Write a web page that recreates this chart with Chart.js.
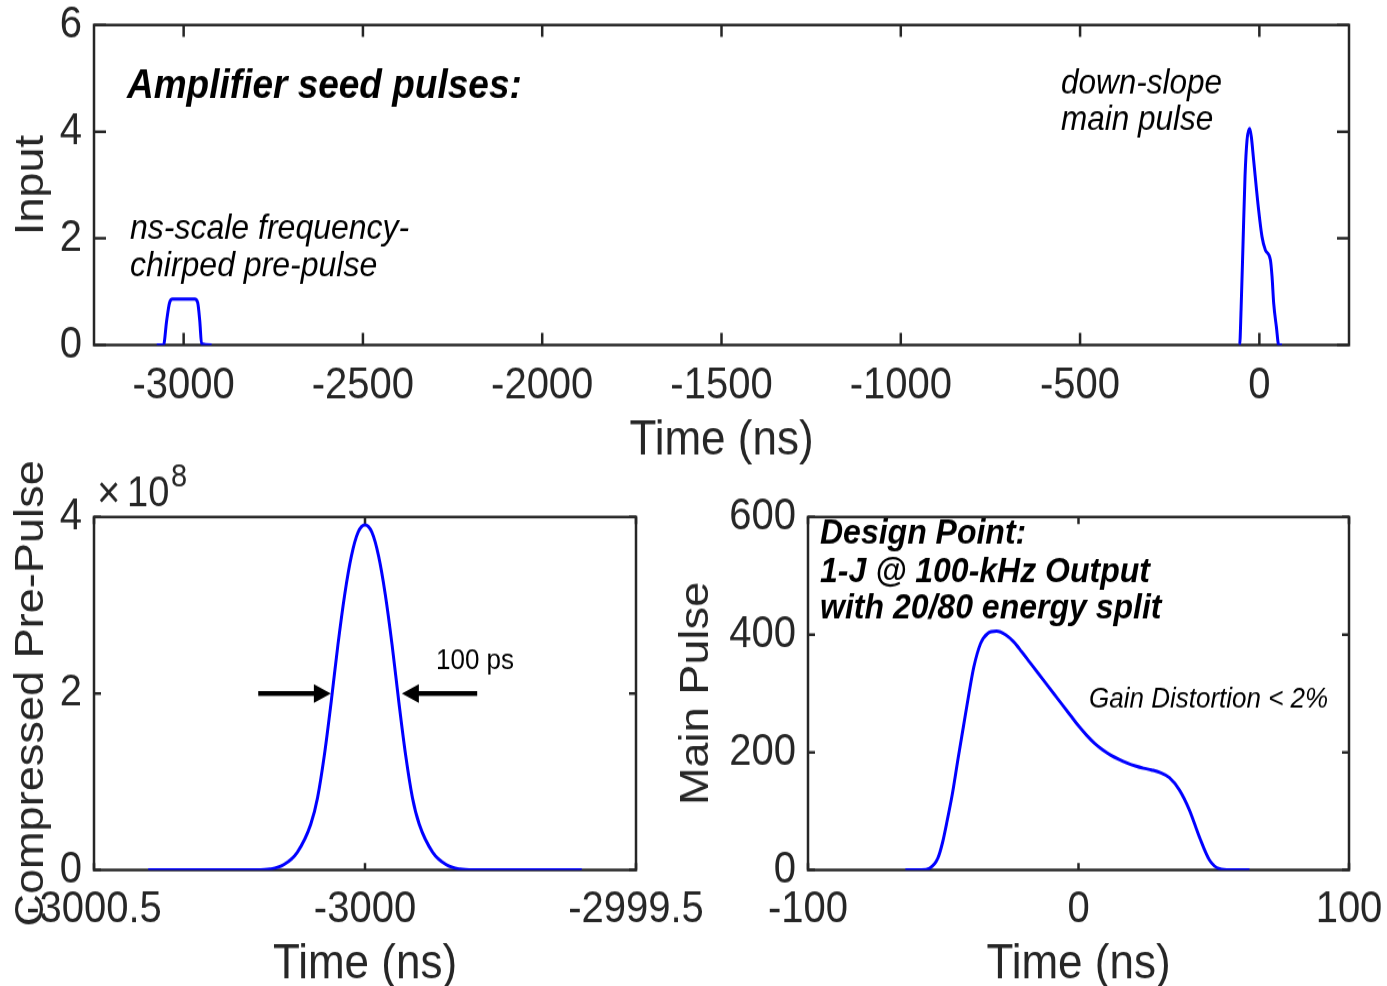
<!DOCTYPE html>
<html>
<head>
<meta charset="utf-8">
<script src="https://cdn.jsdelivr.net/npm/chart.js@4.4.1/dist/chart.umd.min.js"></script>
<style>
  html, body { margin: 0; padding: 0; background: #fff; }
  #wrap { position: relative; width: 1387px; height: 986px; overflow: hidden; }
  /* the source figure is a little taller than wide, so the canvases get stretched */
  #wrap canvas { position: absolute; left: 0; top: 0; transform-origin: 0 0; transform: scaleY(1.1004); }
</style>
</head>
<body>
<div id="wrap">
  <canvas id="top-chart" width="1387" height="896"></canvas>
  <canvas id="pre-chart" width="1387" height="896"></canvas>
  <canvas id="main-chart" width="1387" height="896"></canvas>
</div>
<script>
// ---- data ----

// top panel: seed pulses vs time (ns)
const seedPreTimes = [-3075, -3056, -3047.5, -3039, -3031, -2969, -2961, -2955, -2950, -2922];
const seedPreValues = [0, 0, 0.45, 0.8, 0.86, 0.86, 0.8, 0.45, 0.02, 0];
const seedMainTimes = [-56, -55, -51, -45.5, -40, -34.4, -27, -22.3, -16, -2, 7.4, 16.8, 30.7, 35.4, 40, 47.5, 54, 63];
const seedMainValues = [0, 0, 0.66, 1.91, 3.16, 3.84, 4.06, 3.9, 3.47, 2.53, 2.03, 1.78, 1.6, 1.28, 0.78, 0.34, 0, 0];
const topTicksX = [-3000, -2500, -2000, -1500, -1000, -500, 0];
const topTicksY = [0, 2, 4, 6];

// bottom left: compressed pre-pulse
const preTimes = [-3000.4, -3000.2, -3000.175, -3000.15, -3000.125, -3000.1, -3000.0875, -3000.075, -3000.0625, -3000.05,
  -3000.0375, -3000.025, -3000.0125, -3000, -2999.9875, -2999.975, -2999.9625, -2999.95, -2999.9375, -2999.925,
  -2999.9125, -2999.9, -2999.875, -2999.85, -2999.825, -2999.8, -2999.6];
const preValues = [0, 0, 0.01e8, 0.06e8, 0.2e8, 0.52e8, 0.82e8, 1.3e8, 1.9e8, 2.55e8,
  3.12e8, 3.56e8, 3.83e8, 3.91e8, 3.83e8, 3.56e8, 3.12e8, 2.55e8, 1.9e8, 1.3e8,
  0.82e8, 0.52e8, 0.2e8, 0.06e8, 0.01e8, 0, 0];
const preTicksX = [-3000.5, -3000, -2999.5];
const preTicksY = [0, 2e8, 4e8];

// bottom right: main pulse
const mainTimes = [-64, -58, -55, -52, -50.3, -48.5, -46.6, -44.5, -42.5, -40.5, -38.7, -36.2, -33.6, -30.3, -27,
  -24, -21, -18, -15, -12, -9, -6, -3, 0, 3, 6, 9, 12, 15, 18, 21, 24, 27, 30,
  33.6, 37.3, 41, 44.7, 48.4, 52.1, 56, 63.2];
const mainValues = [0, 0, 3, 20, 46, 85, 130, 190, 245, 300, 345, 385, 402, 406, 400,
  388, 371, 353, 335, 317, 299, 281, 263, 245, 229, 215, 204, 195, 188, 182, 177, 173, 170, 166,
  157, 136, 102, 56, 17, 2, 0, 0];
const mainTicksX = [-100, 0, 100];
const mainTicksY = [0, 200, 400, 600];

const FONT = '"Liberation Sans", Arial, Helvetica, sans-serif';
const AXIS = '#262626';
const SY = 986 / 896;          // css stretch of the canvases
const Y = v => v / SY;         // page y -> canvas y

function pts(xs, ys) {
  return xs.map((x, i) => ({ x: x, y: ys[i] }));
}

function lineSet(xs, ys) {
  return {
    data: pts(xs, ys),
    borderColor: '#0000ff',
    borderWidth: 3,
    pointRadius: 0,
    cubicInterpolationMode: 'monotone',
    fill: false
  };
}

// matlab style box with inward tick marks, drawn under the lines
const boxPlugin = {
  id: 'box',
  beforeDatasetsDraw(chart, args, opts) {
    const { ctx, chartArea: a, scales: { x, y } } = chart;
    ctx.save();
    ctx.strokeStyle = AXIS;
    ctx.lineWidth = 2.5;
    ctx.beginPath();
    x.ticks.forEach(t => {
      const p = x.getPixelForValue(t.value);
      ctx.moveTo(p, a.bottom); ctx.lineTo(p, a.bottom - Y(opts.len));
      ctx.moveTo(p, a.top); ctx.lineTo(p, a.top + Y(opts.len));
    });
    y.ticks.forEach(t => {
      const p = y.getPixelForValue(t.value);
      ctx.moveTo(a.left, p); ctx.lineTo(a.left + opts.len, p);
      ctx.moveTo(a.right, p); ctx.lineTo(a.right - opts.len, p);
    });
    ctx.stroke();
    ctx.strokeRect(a.left, a.top, a.right - a.left, a.bottom - a.top);
    ctx.restore();
  },
  afterDraw(chart, args, opts) {
    if (opts.notes) opts.notes(chart.ctx, chart);
  }
};

function text(ctx, str, x, y, style, size, color) {
  ctx.font = style + ' ' + size + 'px ' + FONT;
  ctx.fillStyle = color || '#000';
  ctx.textAlign = 'left';
  ctx.textBaseline = 'alphabetic';
  ctx.fillText(str, x, Y(y));
}

function scaleX(min, max, ticks, h, tickPad, titlePad) {
  return {
    type: 'linear', min: min, max: max,
    afterBuildTicks: s => { s.ticks = ticks.map(v => ({ value: v })); },
    afterFit: s => { s.height = h; s.paddingLeft = 0; s.paddingRight = 0; },
    grid: { display: false, drawTicks: false },
    border: { display: false },
    ticks: {
      padding: tickPad, color: AXIS, maxRotation: 0, autoSkip: false,
      font: { family: FONT, size: 40 },
      callback: v => String(v)
    },
    title: {
      display: true, text: 'Time (ns)', color: AXIS,
      font: { family: FONT, size: 44, lineHeight: 1 },
      padding: { top: 0, bottom: titlePad }
    }
  };
}

function scaleY(min, max, ticks, w, label, titlePad, fmt) {
  return {
    type: 'linear', min: min, max: max,
    afterBuildTicks: s => { s.ticks = ticks.map(v => ({ value: v })); },
    afterFit: s => { s.width = w; s.paddingTop = 0; s.paddingBottom = 0; },
    grid: { display: false, drawTicks: false },
    border: { display: false },
    ticks: {
      padding: 12, color: AXIS, autoSkip: false,
      font: { family: FONT, size: 40 },
      callback: fmt || (v => String(v))
    },
    title: {
      display: true, text: label, color: AXIS,
      font: { family: FONT, size: 41, lineHeight: 1 },
      padding: { top: titlePad, bottom: 0 }
    }
  };
}

function baseOptions(padding, x, y, len, notes) {
  return {
    responsive: false,
    animation: false,
    events: [],
    layout: { padding: padding },
    plugins: {
      legend: { display: false },
      tooltip: { enabled: false },
      box: { len: len, notes: notes }
    },
    scales: { x: x, y: y }
  };
}

// ---- top: seed pulses ----
new Chart(document.getElementById('top-chart'), {
  type: 'line',
  data: { datasets: [lineSet(seedPreTimes, seedPreValues), lineSet(seedMainTimes, seedMainValues)] },
  plugins: [boxPlugin],
  options: baseOptions(
    { left: 0, top: Y(25), right: 38, bottom: 896 - Y(470) },
    scaleX(-3250, 250, topTicksX, Y(470) - Y(345), 13, 4),
    scaleY(0, 6, topTicksY, 94, 'Input', 11.5),
    12,
    function (ctx) {
      text(ctx, 'Amplifier seed pulses:', 127, 98, 'italic bold', 37);
      text(ctx, 'ns-scale frequency-', 130, 239, 'italic', 32);
      text(ctx, 'chirped pre-pulse', 130, 276, 'italic', 32);
      text(ctx, 'down-slope', 1061, 94, 'italic', 31.5);
      text(ctx, 'main pulse', 1061, 130, 'italic', 31.5);
    }
  )
});

// ---- bottom left: compressed pre-pulse ----
new Chart(document.getElementById('pre-chart'), {
  type: 'line',
  data: { datasets: [lineSet(preTimes, preValues)] },
  plugins: [boxPlugin],
  options: baseOptions(
    { left: 0, top: Y(517), right: 751, bottom: 0 },
    scaleX(-3000.5, -2999.5, preTicksX, 896 - Y(870), 12, -3),
    scaleY(0, 4e8, preTicksY, 94, 'Compressed Pre-Pulse', 11.5, v => String(v / 1e8)),
    7,
    function (ctx, chart) {
      const x = chart.scales.x, y = chart.scales.y;
      // exponent label
      text(ctx, '\u00d7', 97, 507, '', 40, AXIS);
      text(ctx, '10', 127, 506, '', 38, AXIS);
      text(ctx, '8', 171, 486, '', 29, AXIS);
      text(ctx, '100 ps', 436, 669, '', 26);
      // FWHM arrows
      const ay = y.getPixelForValue(2e8);
      const arrow = (from, tip) => {
        const x0 = x.getPixelForValue(from), x1 = x.getPixelForValue(tip);
        const dir = Math.sign(x1 - x0);
        ctx.fillStyle = '#000';
        ctx.fillRect(Math.min(x0, x1 - dir * 14), ay - 2.2, Math.abs(x1 - dir * 14 - x0), 4.4);
        ctx.beginPath();
        ctx.moveTo(x1, ay);
        ctx.lineTo(x1 - dir * 17, ay - 8.5);
        ctx.lineTo(x1 - dir * 17, ay + 8.5);
        ctx.closePath();
        ctx.fill();
      };
      arrow(-3000.197, -3000.063);
      arrow(-2999.793, -2999.932);
    }
  )
});

// ---- bottom right: main pulse ----
new Chart(document.getElementById('main-chart'), {
  type: 'line',
  data: { datasets: [lineSet(mainTimes, mainValues)] },
  plugins: [boxPlugin],
  options: baseOptions(
    { left: 680, top: Y(517), right: 38, bottom: 0 },
    scaleX(-100, 100, mainTicksX, 896 - Y(870), 12, -3),
    scaleY(0, 600, mainTicksY, 128, 'Main Pulse', -3.5),
    7,
    function (ctx) {
      text(ctx, 'Design Point:', 820, 544, 'italic bold', 32);
      text(ctx, '1-J @ 100-kHz Output', 820, 582, 'italic bold', 32);
      text(ctx, 'with 20/80 energy split', 820, 619, 'italic bold', 32);
      text(ctx, 'Gain Distortion < 2%', 1089, 708, 'italic', 26);
    }
  )
});
</script>
</body>
</html>
